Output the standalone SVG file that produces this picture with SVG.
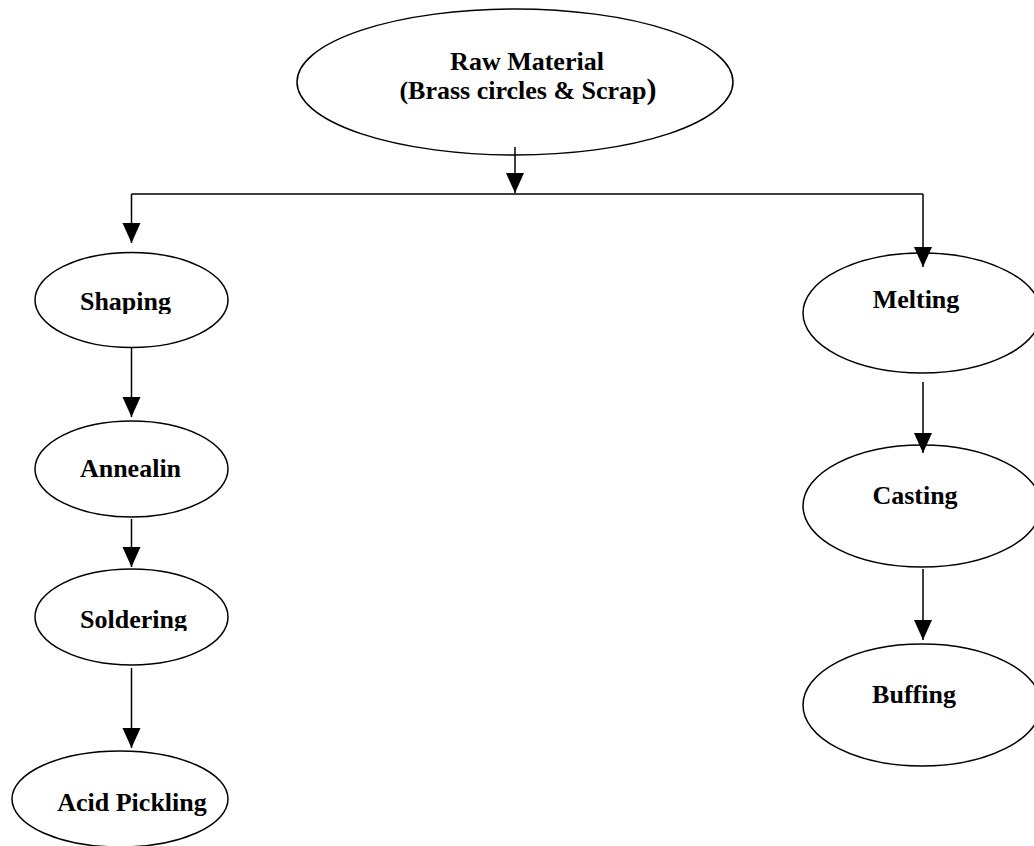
<svg xmlns="http://www.w3.org/2000/svg" width="1034" height="846" viewBox="0 0 1034 846">
  <style>
    .node { fill: #ffffff; stroke: #000000; stroke-width: 1.5; }
    .label { font-family: "Liberation Serif", "Times New Roman", serif; font-weight: bold; font-size: 26px; fill: #000000; text-anchor: middle; }
    .conn { fill: none; stroke: #000000; stroke-width: 1.5; stroke-linecap: butt; }
    .arrow { marker-end: url(#ah); }
  </style>
  <defs>
    <marker id="ah" markerUnits="userSpaceOnUse" viewBox="0 -10 20 20" refX="20" refY="0" markerWidth="20" markerHeight="20" orient="auto">
      <path d="M0,-9 L20,0 L0,9 Z" fill="#000000"/>
    </marker>
    <clipPath id="clipShaping"><rect x="0" y="270" width="260" height="44"/></clipPath>
    <clipPath id="clipSoldering"><rect x="0" y="590" width="260" height="41"/></clipPath>
  </defs>
  <rect x="0" y="0" width="1034" height="846" fill="#ffffff"/>

  <g id="node-raw-material">
    <ellipse class="node" cx="515" cy="82" rx="218" ry="73"/>
    <text class="label" x="527" y="70">Raw Material</text>
    <text class="label" x="528" y="99">(Brass circles &amp; Scrap<tspan font-size="30">)</tspan></text>
  </g>

  <g id="node-shaping">
    <ellipse class="node" cx="131.5" cy="300" rx="96.5" ry="47.5"/>
    <text class="label" x="125.5" y="310" clip-path="url(#clipShaping)">Shaping</text>
  </g>

  <g id="node-annealin">
    <ellipse class="node" cx="131.5" cy="469" rx="96.5" ry="48"/>
    <text class="label" x="130.5" y="477">Annealin</text>
  </g>

  <g id="node-soldering">
    <ellipse class="node" cx="131.5" cy="617" rx="96.5" ry="48"/>
    <text class="label" x="133.5" y="628" clip-path="url(#clipSoldering)">Soldering</text>
  </g>

  <g id="node-acid-pickling">
    <ellipse class="node" cx="120" cy="799" rx="108" ry="48"/>
    <text class="label" x="132" y="811">Acid Pickling</text>
  </g>

  <g id="node-melting">
    <ellipse class="node" cx="922" cy="313" rx="119" ry="60"/>
    <text class="label" x="916" y="308">Melting</text>
  </g>

  <g id="node-casting">
    <ellipse class="node" cx="922" cy="506" rx="119" ry="61"/>
    <text class="label" x="915" y="504">Casting</text>
  </g>

  <g id="node-buffing">
    <ellipse class="node" cx="922" cy="705" rx="119" ry="61"/>
    <text class="label" x="914" y="703">Buffing</text>
  </g>

  <g id="connectors">
    <line class="conn arrow" x1="515" y1="147" x2="515" y2="193"/>
    <line class="conn" x1="131.5" y1="194" x2="923" y2="194"/>
    <line class="conn arrow" x1="131.5" y1="194" x2="131.5" y2="243"/>
    <line class="conn arrow" x1="923" y1="194" x2="923" y2="267"/>
    <line class="conn arrow" x1="131.5" y1="347" x2="131.5" y2="417"/>
    <line class="conn arrow" x1="131.5" y1="519" x2="131.5" y2="567"/>
    <line class="conn arrow" x1="131.5" y1="668" x2="131.5" y2="748"/>
    <line class="conn arrow" x1="923" y1="382" x2="923" y2="453"/>
    <line class="conn arrow" x1="923" y1="569" x2="923" y2="640"/>
  </g>
</svg>
